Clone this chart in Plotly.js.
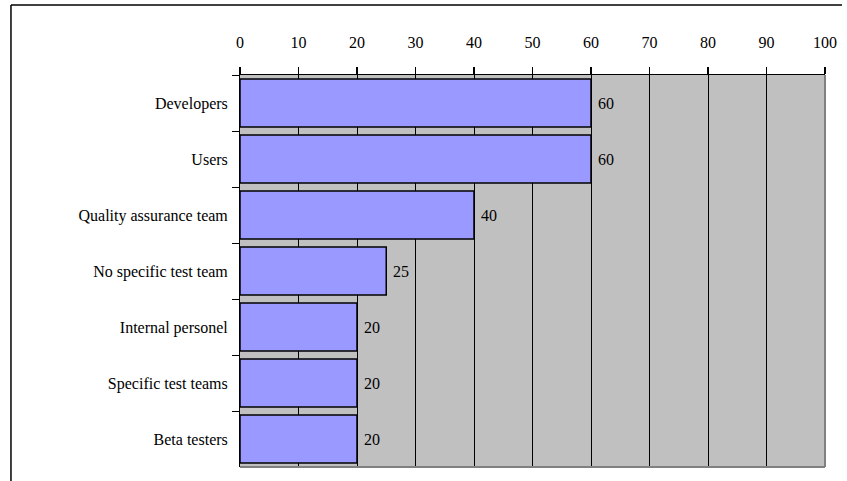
<!DOCTYPE html>
<html>
<head>
<meta charset="utf-8">
<script src="https://cdn.plot.ly/plotly-3.0.1.min.js"></script>
<style>html,body{margin:0;padding:0;background:#fff;}#chart{width:847px;height:481px;}</style>
</head>
<body>
<div id="chart"></div>
<script>
const categories = ["Developers", "Users", "Quality assurance team", "No specific test team", "Internal personel", "Specific test teams", "Beta testers"];
const values = [60, 60, 40, 25, 20, 20, 20];
const tickValues = [0, 10, 20, 30, 40, 50, 60, 70, 80, 90, 100];

const font = {family: "Liberation Serif", size: 16, color: "#000"};

const trace = {
  type: "bar",
  orientation: "h",
  y: categories,
  x: values,
  marker: {color: "#9999ff", line: {color: "#000", width: 1.5}},
  hoverinfo: "none"
};

const labels = categories.map((c, i) => ({
  x: values[i], y: c, xref: "x", yref: "y",
  text: String(values[i]), showarrow: false,
  xanchor: "left", yanchor: "middle", xshift: 5, font: font
}));

const layout = {
  width: 847, height: 481,
  margin: {l: 240, r: 22, t: 75, b: 14},
  paper_bgcolor: "#fff",
  plot_bgcolor: "#c0c0c0",
  font: font,
  bargap: 0.14,
  showlegend: false,
  xaxis: {
    side: "top", range: [0, 100], tickvals: tickValues,
    ticktext: tickValues.map(String),
    ticks: "outside", ticklen: 7, tickcolor: "#000", tickwidth: 1.5,
    showline: true, linecolor: "#000", linewidth: 1.5,
    showgrid: true, gridcolor: "#000", gridwidth: 1,
    zeroline: false, tickfont: font, ticklabelstandoff: 12, fixedrange: true
  },
  yaxis: {
    autorange: "reversed", type: "category",
    ticks: "outside", tickson: "boundaries", ticklen: 7, tickcolor: "#000", tickwidth: 1,
    showline: true, linecolor: "#000", linewidth: 1,
    showgrid: false, tickfont: font, ticklabelstandoff: 8, fixedrange: true
  },
  annotations: labels,
  shapes: [
    {type: "line", xref: "paper", yref: "paper", x0: 1, x1: 1, y0: 0, y1: 1, line: {color: "#808080", width: 2}},
    {type: "line", xref: "paper", yref: "paper", x0: 0, x1: 1, y0: 0, y1: 0, line: {color: "#808080", width: 2}},
    {type: "line", xref: "paper", yref: "paper", x0: -0.3915, x1: 1.029, y0: 1.1786, y1: 1.1786, line: {color: "#000", width: 1.5}},
    {type: "line", xref: "paper", yref: "paper", x0: -0.3915, x1: -0.3915, y0: 1.1786, y1: -0.04, line: {color: "#000", width: 1.5}}
  ]
};

Plotly.newPlot("chart", [trace], layout, {displayModeBar: false, staticPlot: true});
</script>
</body>
</html>
